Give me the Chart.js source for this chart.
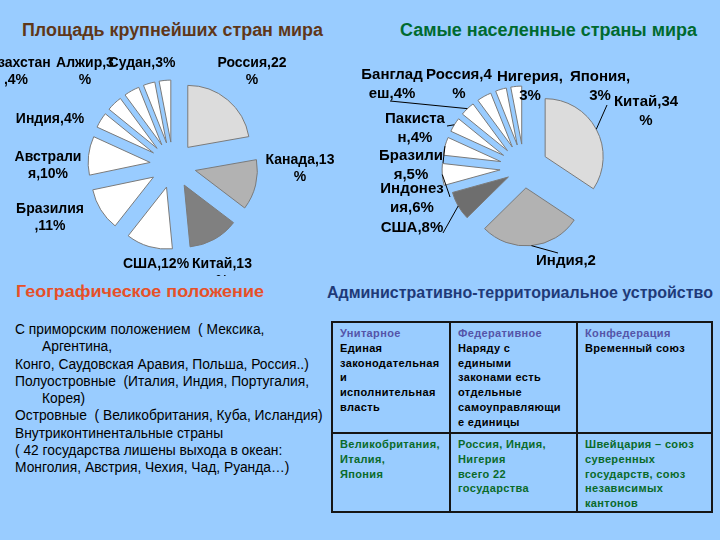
<!DOCTYPE html>
<html lang="ru"><head><meta charset="utf-8">
<title>Страны мира</title>
<script src="https://cdn.jsdelivr.net/npm/chart.js@4.4.1/dist/chart.umd.min.js"></script>
<style>
html,body{margin:0;padding:0}
body{width:720px;height:540px;background:#99ccff;position:relative;overflow:hidden;font-family:"Liberation Sans",Arial,sans-serif;color:#000}
.abs{position:absolute;white-space:nowrap;transform-origin:0 0}
.ttl{font-weight:bold;font-size:18px;line-height:18px}
#t1{left:22px;top:21px;color:#5f3719}
#t2{left:400px;top:21px;color:#006a30}
#c1{position:absolute;left:0;top:45px}
#c2{position:absolute;left:345px;top:45px}
#geoT{left:16px;top:284px;font-size:16px;line-height:16px;font-weight:bold;color:#e65028}
#geo{left:15px;top:321px;font-size:13.8px;line-height:17.3px}
#geo .in{padding-left:27px}
#admT{left:327px;top:285px;font-size:16px;line-height:16px;font-weight:bold;color:#1f3a78}
table{position:absolute;left:331px;top:321px;border-collapse:collapse;table-layout:fixed;width:380px}
td{border:2px solid #151515;vertical-align:top;padding:3px 2px 0 7px;font-size:11px;line-height:14.8px;font-weight:bold;letter-spacing:0.35px;white-space:nowrap;overflow:hidden}
tr.r1 td{height:106px}
tr.r2 td{height:73px}
.h{color:#5454a8}
.g{color:#0a6a2a}
</style></head>
<body>
<div class="abs ttl" id="t1">Площадь крупнейших стран мира</div>
<div class="abs ttl" id="t2">Самые населенные страны мира</div>
<canvas id="c1" width="346" height="231"></canvas>
<canvas id="c2" width="358" height="228"></canvas>
<div class="abs" id="geoT">Географическое положение</div>
<div class="abs" id="geo">
<div>С приморским положением&nbsp; ( Мексика,</div>
<div class="in">Аргентина,</div>
<div>Конго, Саудовская Аравия, Польша, Россия..)</div>
<div>Полуостровные&nbsp; (Италия, Индия, Португалия,</div>
<div class="in">Корея)</div>
<div>Островные&nbsp; ( Великобритания, Куба, Исландия)</div>
<div>Внутриконтинентальные страны</div>
<div>( 42 государства лишены выхода в океан:</div>
<div>Монголия, Австрия, Чехия, Чад, Руанда…)</div>
</div>
<div class="abs" id="admT">Административно-территориальное устройство</div>
<table>
<colgroup><col style="width:118px"><col style="width:127px"><col style="width:135px"></colgroup>
<tr class="r1">
<td><span class="h">Унитарное</span><br>Единая<br>законодательная<br>и<br>исполнительная<br>власть</td>
<td><span class="h">Федеративное</span><br>Наряду с<br>едиными<br>законами есть<br>отдельные<br>самоуправляющи<br>е единицы</td>
<td><span class="h">Конфедерация</span><br>Временный союз</td>
</tr>
<tr class="r2">
<td class="g">Великобритания,<br>Италия,<br>Япония</td>
<td class="g">Россия, Индия,<br>Нигерия<br>всего 22<br>государства</td>
<td class="g">Швейцария – союз<br>суверенных<br>государств, союз<br>независимых<br>кантонов</td>
</tr>
</table>
<script>
// ---- data ----
const areaCategories = ['Россия','Канада','Китай','США','Бразилия','Австралия','Индия','Аргентина','Казахстан','Алжир','Судан'];
const areaValues = [22,13,13,12,11,10,4,4,4,3,3];
const areaLabelBreaks = [9,9,8,0,8,8,0,-1,9,7,0];

const popCategories = ['Китай','Индия','США','Индонезия','Бразилия','Пакистан','Бангладеш','Россия','Нигерия','Япония'];
const popValues = [34,28,8,6,5,4,4,4,3,3];
const popLabelBreaks = [8,7,0,7,7,7,7,8,8,7];

// ---- styles ----
const areaColors = ['#dcdcdc','#b2b2b2','#808080','#ffffff','#ffffff','#ffffff','#ffffff','#ffffff','#ffffff','#ffffff','#ffffff'];
const popColors = ['#dcdcdc','#b2b2b2','#6e6e6e','#ffffff','#ffffff','#ffffff','#ffffff','#ffffff','#ffffff','#ffffff'];
const areaExplode = [23,23,23,23,23,23,23,23,23,23,23];
const popExplode = [24,20,18,24,24,24,24,24,24,24];
const areaLabelPos = [[79,-102],[127,-5],[49,99],[-17,99],[-123,44],[-125,-8],[-123,-46],null,[-157,-102],[-88,-102],[-31,-102]];
const popLabelPos = [[122,-66],[42,93],[-112,60],[-112,21],[-113,-12],[-109,-49],[-132,-93],[-65,-93],[6,-91],[76,-91]];
const popLeaders = [[83,-63],[34,85],[-81,65],[-74,29],[-81,-5],[-77,-42],[-134,-67],null,null,null];

function labelLines(cat, val, br) {
  if (br < 0) return null;
  const s = cat + ',' + val + '%';
  return br === 0 ? [s] : [s.slice(0, br), s.slice(br)];
}

function explodePlugin(dist) {
  return {
    id: 'explode',
    afterDatasetsUpdate(chart) {
      chart.getDatasetMeta(0).data.forEach((arc, i) => {
        const mid = (arc.startAngle + arc.endAngle) / 2;
        arc.x += Math.cos(mid) * dist[i];
        arc.y += Math.sin(mid) * dist[i];
      });
    }
  };
}

function labelPlugin(cfg) {
  return {
    id: 'pieLabels',
    afterDatasetsDraw(chart) {
      const ctx = chart.ctx, ca = chart.chartArea;
      const cx = (ca.left + ca.right) / 2, cy = (ca.top + ca.bottom) / 2;
      const arcs = chart.getDatasetMeta(0).data;
      ctx.save();
      ctx.strokeStyle = '#000';
      ctx.lineWidth = 1;
      arcs.forEach((arc, i) => {
        const st = cfg.leaders && cfg.leaders[i];
        if (!st) return;
        const mid = (arc.startAngle + arc.endAngle) / 2;
        ctx.beginPath();
        ctx.moveTo(cx + st[0], cy + st[1]);
        ctx.lineTo(arc.x + Math.cos(mid) * arc.outerRadius, arc.y + Math.sin(mid) * arc.outerRadius);
        ctx.stroke();
      });
      ctx.font = cfg.font;
      ctx.fillStyle = '#000';
      ctx.textAlign = 'center';
      ctx.textBaseline = 'middle';
      arcs.forEach((arc, i) => {
        const lines = cfg.texts[i], p = cfg.pos[i];
        if (!lines || !p) return;
        lines.forEach((ln, k) => ctx.fillText(ln, cx + p[0], cy + p[1] + k * cfg.lineHeight));
      });
      ctx.restore();
    }
  };
}

function makePie(id, cats, vals, colors, radius, padTop, explode, labelCfg) {
  return new Chart(document.getElementById(id), {
    type: 'pie',
    data: {
      labels: cats,
      datasets: [{ data: vals, backgroundColor: colors, borderColor: '#7a7a7a', borderWidth: 1, radius: radius }]
    },
    options: {
      responsive: false,
      animation: false,
      events: [],
      layout: { padding: { top: padTop, bottom: 0, left: 0, right: 0 } },
      plugins: { legend: { display: false }, tooltip: { enabled: false } }
    },
    plugins: [explodePlugin(explode), labelPlugin(labelCfg)]
  });
}

makePie('c1', areaCategories, areaValues, areaColors, 62, 9, areaExplode, {
  texts: areaCategories.map((c, i) => labelLines(c, areaValues[i], areaLabelBreaks[i])),
  pos: areaLabelPos, leaders: null,
  font: 'bold 14px "Liberation Sans", Arial, sans-serif', lineHeight: 17
});
makePie('c2', popCategories, popValues, popColors, 58, 18, popExplode, {
  texts: popCategories.map((c, i) => labelLines(c, popValues[i], popLabelBreaks[i])),
  pos: popLabelPos, leaders: popLeaders,
  font: 'bold 15px "Liberation Sans", Arial, sans-serif', lineHeight: 19
});

function fitWidth(id, w) {
  const el = document.getElementById(id);
  const r = w / el.getBoundingClientRect().width;
  el.style.transform = 'scaleX(' + r + ')';
}
fitWidth('t1', 301);
fitWidth('t2', 297);
fitWidth('geoT', 248);
fitWidth('admT', 386);
</script>
</body></html>
